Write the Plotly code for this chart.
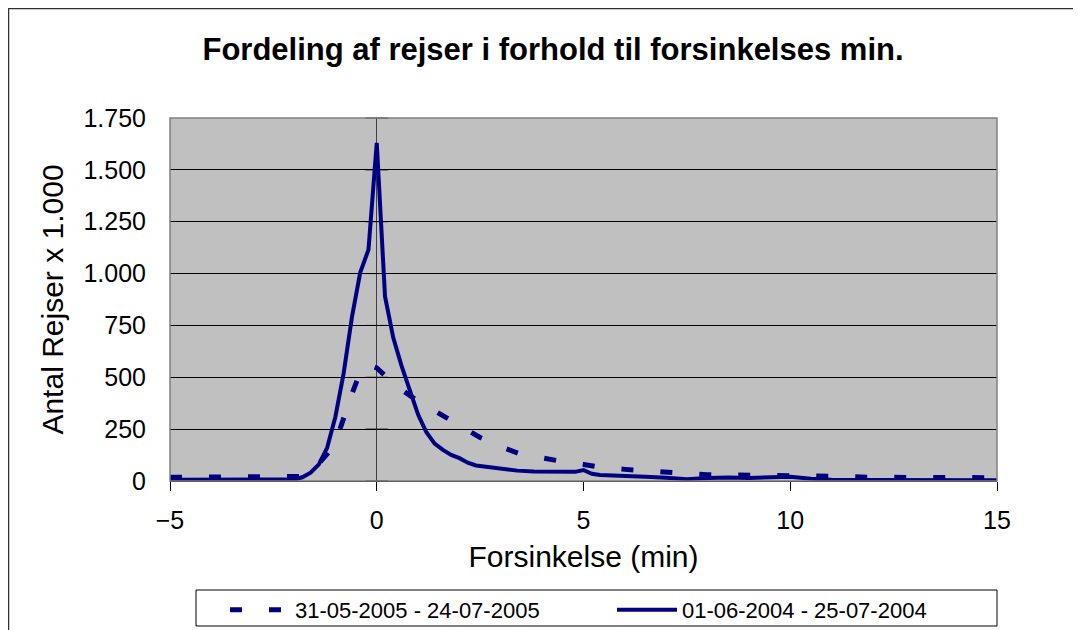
import plotly.graph_objects as go

# ---- data ----
x_2004 = [-5, -4.5, -4, -3.5, -3, -2.5, -2,
          -1.8, -1.6, -1.4, -1.2, -1.0, -0.8, -0.6, -0.4, -0.2,
          0,
          0.2, 0.4, 0.6, 0.8, 1.0, 1.2, 1.4, 1.6, 1.8, 2.0, 2.2, 2.4, 2.6, 2.8, 3.0,
          3.4, 3.8, 4.2, 4.6, 4.8, 5.0, 5.2, 5.4,
          6.0, 6.5, 7.0, 7.5, 8.0, 8.5, 9.0, 9.5, 10.0, 10.5,
          11, 12, 13, 14, 15]
y_2004 = [6, 6, 6, 6, 6, 6, 7,
          18, 40, 80, 160, 310, 520, 790, 1005, 1115,
          1630,
          890, 690, 555, 430, 320, 235, 180, 150, 126, 110, 88, 75, 70, 65, 60,
          50, 46, 44, 41, 44, 53, 35, 29,
          26, 21, 16, 9, 14, 17, 15, 20, 21, 11,
          6, 5, 4, 4, 4]

x_2005 = [-5, -4, -3, -2, -1.8, -1.6, -1.4, -1.2, -1.0, -0.8, -0.6, -0.4, -0.2,
          0, 0.2, 0.4, 0.6, 0.8, 1.0, 1.2, 1.4, 1.6, 1.8, 2.0, 2.5, 3.0, 3.5,
          4.0, 4.5, 5.0, 5.5, 6.0, 6.5, 7.0, 7.5, 8.0, 8.5, 9.0, 9.5, 10,
          10.5, 11, 12, 13, 14, 15]
y_2005 = [18, 18, 18, 18, 22, 38, 80, 130, 185, 310, 420, 525, 560,
          545, 505, 472, 440, 410, 385, 362, 340, 315, 290, 268, 210, 165, 128,
          108, 94, 80, 64, 56, 49, 42, 35, 30, 29, 29, 28, 27,
          25, 23, 18, 16, 16, 16]

name_2005 = "31-05-2005 - 24-07-2005"
name_2004 = "01-06-2004 - 25-07-2004"

y_ticks = [0, 250, 500, 750, 1000, 1250, 1500, 1750]
x_ticks = [-5, 0, 5, 10, 15]

title = "Fordeling af rejser i forhold til forsinkelses min."
x_title = "Forsinkelse (min)"
y_title = "Antal Rejser x 1.000"

navy = "#000080"
FONT = "Liberation Sans, Arial, sans-serif"

W, H = 1081, 630
ML, MT = 162, 110
PW, PH = 827, 363
MR, MB = W - ML - PW, H - MT - PH

fig = go.Figure()

# tick marks on the y axis that crosses at x = 0
fig.add_trace(go.Scatter(
    x=[0] * len(y_ticks), y=y_ticks, mode="markers",
    marker=dict(symbol="line-ew", size=16, line=dict(color="black", width=1)),
    showlegend=False, hoverinfo="skip", cliponaxis=False))

fig.add_trace(go.Scatter(
    x=x_2005, y=y_2005, mode="lines", name=name_2005,
    line=dict(color=navy, width=5, dash="12px,27px")))
fig.add_trace(go.Scatter(
    x=x_2004, y=y_2004, mode="lines", name=name_2004,
    line=dict(color=navy, width=4)))


def px_to_paper_x(p):
    return (p - ML) / PW


def px_to_paper_y(p):
    return 1 - (p - MT) / PH


# outer chart frame
fig.add_shape(type="rect", xref="paper", yref="paper",
              x0=px_to_paper_x(0.5), x1=px_to_paper_x(1068),
              y0=px_to_paper_y(660), y1=px_to_paper_y(0.5),
              line=dict(color="#303030", width=1.5), fillcolor="rgba(0,0,0,0)",
              layer="below")
# legend frame
fig.add_shape(type="rect", xref="paper", yref="paper",
              x0=px_to_paper_x(188), x1=px_to_paper_x(989),
              y0=px_to_paper_y(618), y1=px_to_paper_y(582),
              line=dict(color="black", width=1), fillcolor="white",
              layer="below")
# plot area border
fig.add_shape(type="rect", xref="x domain", yref="y domain",
              x0=0, x1=1, y0=0, y1=1,
              line=dict(color="#808080", width=1.5), layer="above")

fig.update_layout(
    width=W, height=H,
    margin=dict(l=ML, r=MR, t=MT, b=MB, autoexpand=False),
    paper_bgcolor="white", plot_bgcolor="#C0C0C0",
    separators=",.",
    font=dict(family=FONT, color="black", size=25),
    title=dict(text="<b>" + title + "</b>", font=dict(size=31, family=FONT),
               xref="container", x=545 / W, xanchor="center",
               yref="container", y=1 - 41 / H, yanchor="middle"),
    showlegend=True,
    legend=dict(orientation="h", x=px_to_paper_x(217), y=px_to_paper_y(581),
                xanchor="left", yanchor="top",
                borderwidth=0, bgcolor="rgba(0,0,0,0)",
                font=dict(size=22, family=FONT),
                itemwidth=60, entrywidth=312, entrywidthmode="pixels",
                traceorder="normal"),
    xaxis=dict(range=[-5, 15], tickvals=x_ticks, ticks="outside", ticklen=9,
               tickcolor="black", showline=True, linecolor="black", linewidth=1,
               showgrid=False, zeroline=True, zerolinecolor="#404040",
               zerolinewidth=1.2, tickfont=dict(size=25),
               ticklabelstandoff=8,
               title=dict(text=x_title, font=dict(size=30), standoff=12),
               fixedrange=True),
    yaxis=dict(range=[0, 1750], tickvals=y_ticks, tickformat=",d",
               ticks="outside", ticklen=18, tickcolor="rgba(0,0,0,0)",
               showline=False, showgrid=True, gridcolor="black", gridwidth=1,
               zeroline=False, tickfont=dict(size=25),
               title=dict(text=y_title, font=dict(size=30), standoff=10),
               fixedrange=True),
)

fig.write_html("out.html")
